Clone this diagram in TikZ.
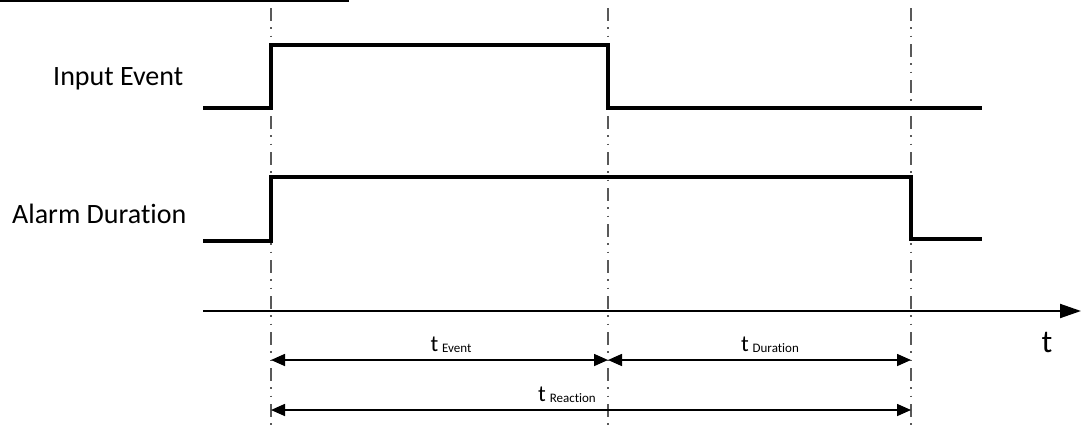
\documentclass[tikz,border=0pt]{standalone}
\usepackage{fontspec}
\setmainfont[Ligatures={NoCommon,NoRare}]{Carlito}
\usetikzlibrary{arrows.meta}
\begin{document}
\begin{tikzpicture}[x=1pt,y=-1pt,
  signal/.style={line width=4pt,line join=miter},
  guide/.style={line width=1.3pt,black!65,dash pattern=on 13pt off 6pt on 1.5pt off 7pt on 1.5pt off 7pt},
  dimarrow/.style={line width=1.6pt,{Triangle[length=14pt,width=12pt]}-{Triangle[length=14pt,width=12pt]}},
  axisline/.style={line width=2pt,-{Triangle[length=21pt,width=14pt]}},
  lbl/.style={font=\fontsize{28}{32}\selectfont,anchor=base west,inner sep=0pt},
  tlbl/.style={font=\fontsize{23}{26}\selectfont,anchor=base,inner sep=0pt},
  subfont/.style={}
]
\useasboundingbox (0,0) rectangle (1087,431);
\fill[white] (0,0) rectangle (1087,431);
% top line
\coordinate (tl0) at (0,1);
\coordinate (tl1) at (349,1);
\draw[line width=2pt] (tl0) -- (tl1);
% guide coordinates
\coordinate (gA0) at (271,8);  \coordinate (gA1) at (271,431);
\coordinate (gB0) at (608,8);  \coordinate (gB1) at (608,431);
\coordinate (gC0) at (911,8);  \coordinate (gC1) at (911,431);
\draw[guide] (gA0) -- (gA1);
\draw[guide] (gB0) -- (gB1);
\draw[guide] (gC0) -- (gC1);
% labels
\node[lbl] (inlbl) at (53,85) {Input Event};
\node[lbl] (allbl) at (12,223) {Alarm Duration};
% input event signal
\coordinate (i0) at (203,108);
\coordinate (i1) at (271,108);
\coordinate (i2) at (271,45);
\coordinate (i3) at (608,45);
\coordinate (i4) at (608,108);
\coordinate (i5) at (982,108);
\draw[signal] (i0) -- (i1) -- (i2) -- (i3) -- (i4) -- (i5);
% alarm duration signal
\coordinate (a0) at (203,241);
\coordinate (a1) at (271,241);
\coordinate (a2) at (271,177);
\coordinate (a3) at (911,177);
\coordinate (a4) at (911,239);
\coordinate (a5) at (982,239);
\draw[signal] (a0) -- (a1) -- (a2) -- (a3) -- (a4) -- (a5);
% time axis
\coordinate (ax0) at (203,311);
\coordinate (ax1) at (1081,311);
\draw[axisline] (ax0) -- (ax1);
\node[inner sep=0pt,anchor=base,font=\fontsize{32}{36}\selectfont] (tax) at (1047,352) {t};
% dimension arrows
\coordinate (dA) at (271,360);
\coordinate (dB) at (608,360);
\coordinate (dC) at (911,360);
\draw[dimarrow] (dA) -- (dB);
\draw[dimarrow] (dB) -- (dC);
\coordinate (rA) at (271,410);
\coordinate (rC) at (911,410);
\draw[dimarrow] (rA) -- (rC);
\node[tlbl] (tev) at (451,351) {t\,\raisebox{-1pt}{\fontsize{13}{15}\selectfont Event}};
\node[tlbl] (tdu) at (770,351) {t\,\raisebox{-1pt}{\fontsize{13}{15}\selectfont Duration}};
\node[tlbl] (tre) at (567,401) {t\,\raisebox{-1pt}{\fontsize{13}{15}\selectfont Reaction}};
\end{tikzpicture}
\end{document}
